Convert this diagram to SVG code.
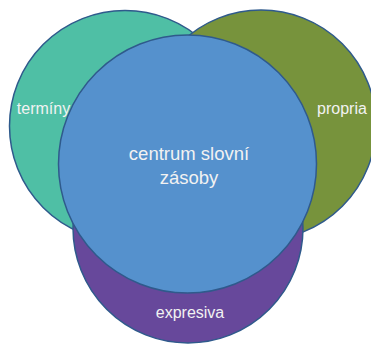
<svg xmlns="http://www.w3.org/2000/svg" width="371" height="344" viewBox="0 0 371 344">
<style>
.c{stroke:#2f5a8c;stroke-width:1.5}
.t{font-family:"Liberation Sans",Arial,sans-serif;fill:#f2f2f2;text-anchor:middle}
</style>
<rect width="371" height="344" fill="#ffffff"/>
<g id="terminy">
<circle class="c" cx="125" cy="126" r="115.5" fill="#4fbfa5"/>
<text class="t" x="43.5" y="114" font-size="16">termíny</text>
</g>
<g id="propria">
<circle class="c" cx="261" cy="125" r="115" fill="#77933c"/>
<text class="t" x="342" y="114" font-size="16">propria</text>
</g>
<g id="expresiva">
<circle class="c" cx="188" cy="228" r="115" fill="#67489b"/>
<text class="t" x="190" y="318" font-size="16">expresiva</text>
</g>
<g id="centrum">
<circle class="c" cx="187.5" cy="164" r="129" fill="#5591cd"/>
<text class="t" x="189" y="160" font-size="18.5">centrum slovní</text>
<text class="t" x="189" y="184" font-size="18.5">zásoby</text>
</g>
<g id="connectors"></g>
</svg>
